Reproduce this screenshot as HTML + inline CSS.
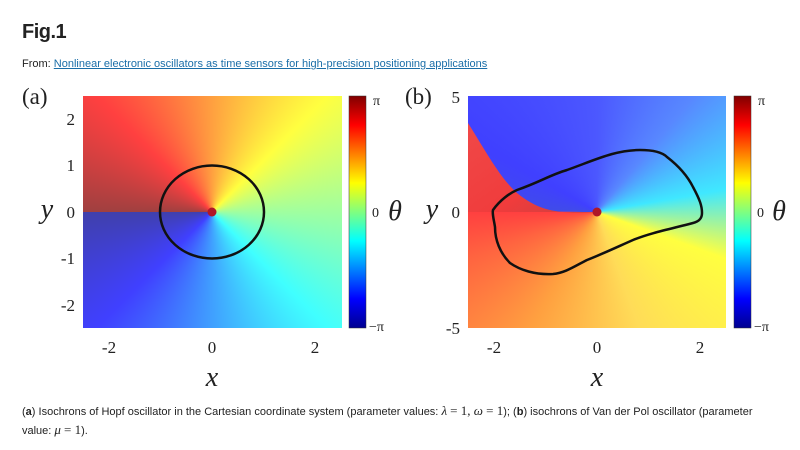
<!DOCTYPE html>
<html><head><meta charset="utf-8"><style>
html,body{margin:0;padding:0;background:#fff;width:800px;height:450px;overflow:hidden}
#w{position:relative;width:800px;height:450px;overflow:hidden}
.c{position:absolute;font-family:"Liberation Sans",sans-serif;color:#222}
.plot{position:absolute;opacity:0.75}
</style></head><body><div id="w">
<div class="c" style="left:22px;top:21px;font-size:20px;font-weight:bold;letter-spacing:-0.5px">Fig.1</div>
<div class="c" style="left:22px;top:58px;font-size:11px">From: <span style="color:#1a6ea8;text-decoration:underline">Nonlinear electronic oscillators as time sensors for high-precision positioning applications</span></div>

<div class="plot" style="left:83px;top:96px;width:259px;height:232px;background:conic-gradient(from 0deg at 129px 116px,#ff8000 0deg,#ffff00 45deg,#80ff80 90deg,#00ffff 135deg,#0000ff 225deg,#000090 270deg,#800000 270deg,#ff0000 315deg,#ff8000 360deg)"></div>
<div class="plot" style="left:468px;top:96px;width:258px;height:232px;background:conic-gradient(from 0deg at 129px 116px,#1020ff 0deg,#2060ff 40deg,#00e0ff 80deg,#ffff00 110deg,#ffd020 160deg,#ff8000 210deg,#ff3000 250deg,#ff0000 270deg,#0010e0 271deg,#0000ff 300deg,#1020ff 360deg)"></div>
<svg width="800" height="450" style="position:absolute;left:0;top:0" font-family="Liberation Serif,serif">
 <defs>
  <linearGradient id="jet" x1="0" y1="1" x2="0" y2="0">
   <stop offset="0" stop-color="#000090"/><stop offset="0.125" stop-color="#0000ff"/><stop offset="0.375" stop-color="#00ffff"/><stop offset="0.625" stop-color="#ffff00"/><stop offset="0.875" stop-color="#ff0000"/><stop offset="1" stop-color="#800000"/>
  </linearGradient>
  <linearGradient id="rw" x1="0" y1="0" x2="1" y2="1">
   <stop offset="0" stop-color="#f04848"/><stop offset="0.6" stop-color="#f03c3c"/><stop offset="1" stop-color="#c84040"/>
  </linearGradient>
 </defs>
 <path d="M597,212 C560,214 540,212 517,193 C500,178 485,150 468,123 L468,212 Z" fill="url(#rw)"/>
 <rect x="349" y="96" width="17" height="232" fill="url(#jet)" stroke="#333" stroke-width="0.5"/>
 <rect x="734" y="96" width="17" height="232" fill="url(#jet)" stroke="#333" stroke-width="0.5"/>
 <ellipse cx="212" cy="212" rx="52" ry="46.5" fill="none" stroke="#111" stroke-width="2.5"/>
 <circle cx="212" cy="212" r="4.5" fill="#b01828"/>
 <path d="M493,210 C500,200 510,193 517,190 C540,182 550,175 567,170 C595,160 615,150 640,150 C655,150 663,153 667,157 C680,167 688,177 693,187 C700,200 702,206 702,213 C702,220 697,222 693,223 C670,229 650,233 633,240 C615,248 600,255 587,260 C575,266 565,273 553,274 C535,275 520,270 510,263 C500,253 495,240 495,227 C494,220 492,214 493,210 Z" fill="none" stroke="#111" stroke-width="2.5"/>
 <circle cx="597" cy="212" r="4.5" fill="#b01828"/>
 <g font-size="17" fill="#222" text-anchor="end">
  <text x="75" y="125">2</text><text x="75" y="171">1</text><text x="75" y="218">0</text><text x="75" y="264">-1</text><text x="75" y="311">-2</text>
  <text x="460" y="103">5</text><text x="460" y="218">0</text><text x="460" y="334">-5</text>
 </g>
 <g font-size="17" fill="#222" text-anchor="middle">
  <text x="109" y="353">-2</text><text x="212" y="353">0</text><text x="315" y="353">2</text>
  <text x="494" y="353">-2</text><text x="597" y="353">0</text><text x="700" y="353">2</text>
 </g>
 <g font-size="28" font-style="italic" fill="#222" text-anchor="middle">
  <text x="212" y="386">x</text><text x="597" y="386">x</text>
  <text x="47" y="218">y</text><text x="432" y="218">y</text>
  <text x="395" y="220">θ</text><text x="779" y="220">θ</text>
 </g>
 <g font-size="14" fill="#222">
  <text x="373" y="105">π</text><text x="372" y="217">0</text><text x="369" y="331">−π</text>
  <text x="758" y="105">π</text><text x="757" y="217">0</text><text x="754" y="331">−π</text>
 </g>
 <g font-size="23" fill="#222"><text x="22" y="104">(a)</text><text x="405" y="104">(b)</text></g>
</svg>
<div class="c" style="left:22px;top:402px;font-size:11px;line-height:18px;width:765px">(<b>a</b>) Isochrons of Hopf oscillator in the Cartesian coordinate system (parameter values: <i style="font-family:'Liberation Serif',serif;font-size:13px">λ</i> <span style="font-family:'Liberation Serif',serif;font-size:13px">= 1, <i>ω</i> = 1</span>); (<b>b</b>) isochrons of Van der Pol oscillator (parameter<br>value: <i style="font-family:'Liberation Serif',serif;font-size:13px">μ</i> <span style="font-family:'Liberation Serif',serif;font-size:13px">= 1</span>).</div>
</div></body></html>
